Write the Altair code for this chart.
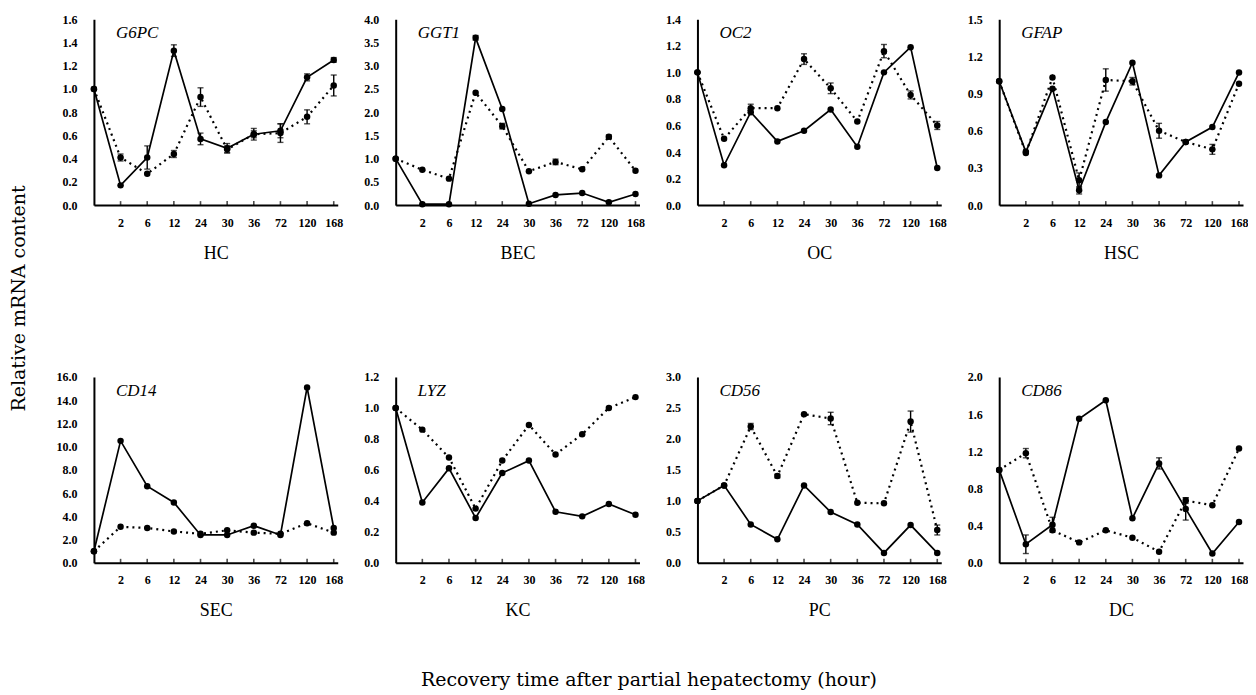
import altair as alt
import pandas as pd

HOURS = ["0", "2", "6", "12", "24", "30", "36", "72", "120", "168"]

GENES = ["G6PC", "GGT1", "OC2", "GFAP", "CD14", "LYZ", "CD56", "CD86"]
CELLS = ["HC", "BEC", "OC", "HSC", "SEC", "KC", "PC", "DC"]
Y_MAX = [1.6, 4.0, 1.4, 1.5, 16.0, 1.2, 3.0, 2.0]
Y_STEP = [0.2, 0.5, 0.2, 0.3, 2.0, 0.2, 0.5, 0.4]

G6PC_SOLID = [1.00, 0.17, 0.41, 1.33, 0.57, 0.49, 0.61, 0.64, 1.10, 1.25]
G6PC_SOLID_ERR = [0, 0, 0.10, 0.05, 0.05, 0.04, 0.05, 0.06, 0.03, 0.02]
G6PC_DOTTED = [1.00, 0.41, 0.27, 0.44, 0.93, 0.48, 0.61, 0.62, 0.76, 1.03]
G6PC_DOTTED_ERR = [0, 0.03, 0, 0.03, 0.08, 0.03, 0.03, 0.08, 0.06, 0.09]

GGT1_SOLID = [1.00, 0.02, 0.02, 3.60, 2.07, 0.03, 0.22, 0.26, 0.06, 0.24]
GGT1_SOLID_ERR = [0, 0, 0, 0.05, 0, 0, 0, 0, 0, 0]
GGT1_DOTTED = [1.00, 0.76, 0.57, 2.42, 1.70, 0.73, 0.93, 0.77, 1.47, 0.74]
GGT1_DOTTED_ERR = [0, 0, 0, 0, 0.06, 0, 0.06, 0, 0.04, 0]

OC2_SOLID = [1.00, 0.30, 0.70, 0.48, 0.56, 0.72, 0.44, 1.00, 1.19, 0.28]
OC2_SOLID_ERR = [0, 0, 0, 0, 0, 0, 0, 0, 0, 0]
OC2_DOTTED = [1.00, 0.50, 0.73, 0.73, 1.10, 0.88, 0.63, 1.16, 0.83, 0.60]
OC2_DOTTED_ERR = [0, 0, 0.03, 0, 0.04, 0.04, 0, 0.05, 0.03, 0.03]

GFAP_SOLID = [1.00, 0.43, 0.94, 0.12, 0.67, 1.15, 0.24, 0.51, 0.63, 1.07]
GFAP_SOLID_ERR = [0, 0, 0, 0.03, 0, 0, 0, 0, 0, 0]
GFAP_DOTTED = [1.00, 0.42, 1.03, 0.20, 1.01, 1.00, 0.60, 0.51, 0.45, 0.98]
GFAP_DOTTED_ERR = [0, 0, 0, 0.06, 0.09, 0.03, 0.06, 0, 0.04, 0]

CD14_SOLID = [1.0, 10.5, 6.6, 5.2, 2.4, 2.4, 3.2, 2.4, 15.1, 3.0]
CD14_SOLID_ERR = [0, 0, 0, 0, 0, 0, 0, 0, 0, 0]
CD14_DOTTED = [1.0, 3.1, 3.0, 2.7, 2.5, 2.8, 2.6, 2.5, 3.4, 2.6]
CD14_DOTTED_ERR = [0, 0, 0, 0, 0, 0, 0, 0, 0, 0]

LYZ_SOLID = [1.00, 0.39, 0.61, 0.29, 0.58, 0.66, 0.33, 0.30, 0.38, 0.31]
LYZ_SOLID_ERR = [0, 0, 0, 0, 0, 0, 0, 0, 0, 0]
LYZ_DOTTED = [1.00, 0.86, 0.68, 0.35, 0.66, 0.89, 0.70, 0.83, 1.00, 1.07]
LYZ_DOTTED_ERR = [0, 0, 0, 0, 0, 0, 0, 0, 0, 0]

CD56_SOLID = [1.00, 1.25, 0.62, 0.38, 1.25, 0.82, 0.62, 0.16, 0.61, 0.16]
CD56_SOLID_ERR = [0, 0, 0, 0, 0, 0, 0, 0, 0, 0]
CD56_DOTTED = [1.00, 1.25, 2.20, 1.40, 2.40, 2.33, 0.97, 0.96, 2.28, 0.53]
CD56_DOTTED_ERR = [0, 0, 0.05, 0.03, 0, 0.10, 0, 0, 0.17, 0.08]

CD86_SOLID = [1.00, 0.20, 0.41, 1.55, 1.75, 0.48, 1.07, 0.58, 0.10, 0.44]
CD86_SOLID_ERR = [0, 0.10, 0.08, 0, 0, 0, 0.06, 0.12, 0, 0]
CD86_DOTTED = [1.00, 1.18, 0.35, 0.22, 0.35, 0.27, 0.12, 0.67, 0.62, 1.23]
CD86_DOTTED_ERR = [0, 0.05, 0, 0, 0, 0, 0, 0.03, 0, 0]

SERIES = [
    (G6PC_SOLID, G6PC_SOLID_ERR, G6PC_DOTTED, G6PC_DOTTED_ERR),
    (GGT1_SOLID, GGT1_SOLID_ERR, GGT1_DOTTED, GGT1_DOTTED_ERR),
    (OC2_SOLID, OC2_SOLID_ERR, OC2_DOTTED, OC2_DOTTED_ERR),
    (GFAP_SOLID, GFAP_SOLID_ERR, GFAP_DOTTED, GFAP_DOTTED_ERR),
    (CD14_SOLID, CD14_SOLID_ERR, CD14_DOTTED, CD14_DOTTED_ERR),
    (LYZ_SOLID, LYZ_SOLID_ERR, LYZ_DOTTED, LYZ_DOTTED_ERR),
    (CD56_SOLID, CD56_SOLID_ERR, CD56_DOTTED, CD56_DOTTED_ERR),
    (CD86_SOLID, CD86_SOLID_ERR, CD86_DOTTED, CD86_DOTTED_ERR),
]

W = 244
H = 186
X_END = 9.15
LABEL_EXPR = "[" + ",".join("'%s'" % h for h in HOURS) + "][datum.value]"
SERIF = "Liberation Serif"


def panel(idx):
    solid, solid_err, dotted, dotted_err = SERIES[idx]
    rows = []
    for name, vals, errs in (("solid", solid, solid_err), ("dotted", dotted, dotted_err)):
        for p, (h, v, e) in enumerate(zip(HOURS, vals, errs)):
            rows.append({"pos": p, "hour": h, "series": name, "value": v,
                         "lo": v - e, "hi": v + e, "err": e})
    df = pd.DataFrame(rows)
    err_df = df[df["err"] > 0]
    tick_df = pd.DataFrame({"pos": list(range(1, len(HOURS))), "zero": 0.0})

    ymax = Y_MAX[idx]
    ystep = Y_STEP[idx]
    nticks = int(round(ymax / ystep))
    yvals = [round(k * ystep, 2) for k in range(nticks + 1)]

    x_axis = alt.Axis(values=list(range(1, len(HOURS))), labelExpr=LABEL_EXPR,
                      title=CELLS[idx], titleFont=SERIF, titleFontSize=18,
                      titleFontWeight="normal", titleColor="black",
                      titleBaseline="alphabetic", titleY=53,
                      labelFont=SERIF, labelFontWeight="bold", labelFontSize=12,
                      labelColor="black", labelPadding=12, labelOverlap=False,
                      labelFlush=False, ticks=False, grid=False,
                      domainColor="black", domainWidth=2)
    y_kw = dict(values=yvals, format=".1f", labelFont=SERIF, labelFontWeight="bold",
                labelFontSize=12, labelColor="black", labelPadding=17, ticks=False,
                grid=False, domainColor="black", domainWidth=2)
    if idx == 0:
        y_axis = alt.Axis(title="Relative mRNA content", titleFont="DejaVu Serif",
                          titleFontSize=19, titleFontWeight="normal", titleColor="black",
                          titleAngle=270, titleAlign="center", titleBaseline="middle",
                          titleX=-75, titleY=279, **y_kw)
    else:
        y_axis = alt.Axis(title=None, **y_kw)

    xs = alt.Scale(domain=[0, X_END], nice=False, zero=False)
    ys = alt.Scale(domain=[0, ymax], nice=False, zero=True)
    X = alt.X("pos:Q", scale=xs, axis=x_axis)
    Y = alt.Y("value:Q", scale=ys, axis=y_axis)

    base = alt.Chart(df)
    solid_line = base.transform_filter("datum.series == 'solid'").mark_line(
        color="black", strokeWidth=1.7).encode(x=X, y=Y)
    dotted_line = base.transform_filter("datum.series == 'dotted'").mark_line(
        color="black", strokeWidth=2.2, strokeDash=[2, 4]).encode(x=X, y=Y)
    pts = base.mark_point(filled=True, shape="circle", size=42, color="black",
                          opacity=1).encode(x=X, y=Y)
    errs = alt.Chart(err_df).mark_errorbar(ticks={"size": 6, "thickness": 1.4},
                                           thickness=1.4, color="black").encode(
        x=X, y=alt.Y("lo:Q", scale=ys, axis=y_axis), y2="hi:Q")
    inner_ticks = alt.Chart(tick_df).mark_tick(
        orient="vertical", size=4, thickness=1.6, yOffset=-2, color="black").encode(
        x=X, y=alt.Y("zero:Q", scale=ys, axis=y_axis))
    label = alt.Chart(pd.DataFrame({"gene": [GENES[idx]]})).mark_text(
        align="left", baseline="alphabetic", font=SERIF, fontStyle="italic",
        fontSize=17, color="black", x=22, y=19).encode(text="gene:N")

    layers = [inner_ticks, dotted_line, solid_line, pts, label]
    if len(err_df):
        layers.insert(3, errs)
    return alt.layer(*layers).properties(width=W, height=H)


chart = alt.concat(
    *[panel(i) for i in range(8)], columns=4,
    spacing={"row": 172, "column": 58}, bounds="flush",
).properties(
    title=alt.TitleParams(text="Recovery time after partial hepatectomy (hour)",
                          orient="bottom", anchor="middle", font="DejaVu Serif",
                          fontSize=19, fontWeight="normal", color="black",
                          offset=51, dx=20),
    padding={"left": 2, "top": 5, "right": 0, "bottom": 5},
).configure_view(stroke="transparent", strokeWidth=0)

chart.save("out.html", embed_options={"renderer": "svg", "actions": False})
